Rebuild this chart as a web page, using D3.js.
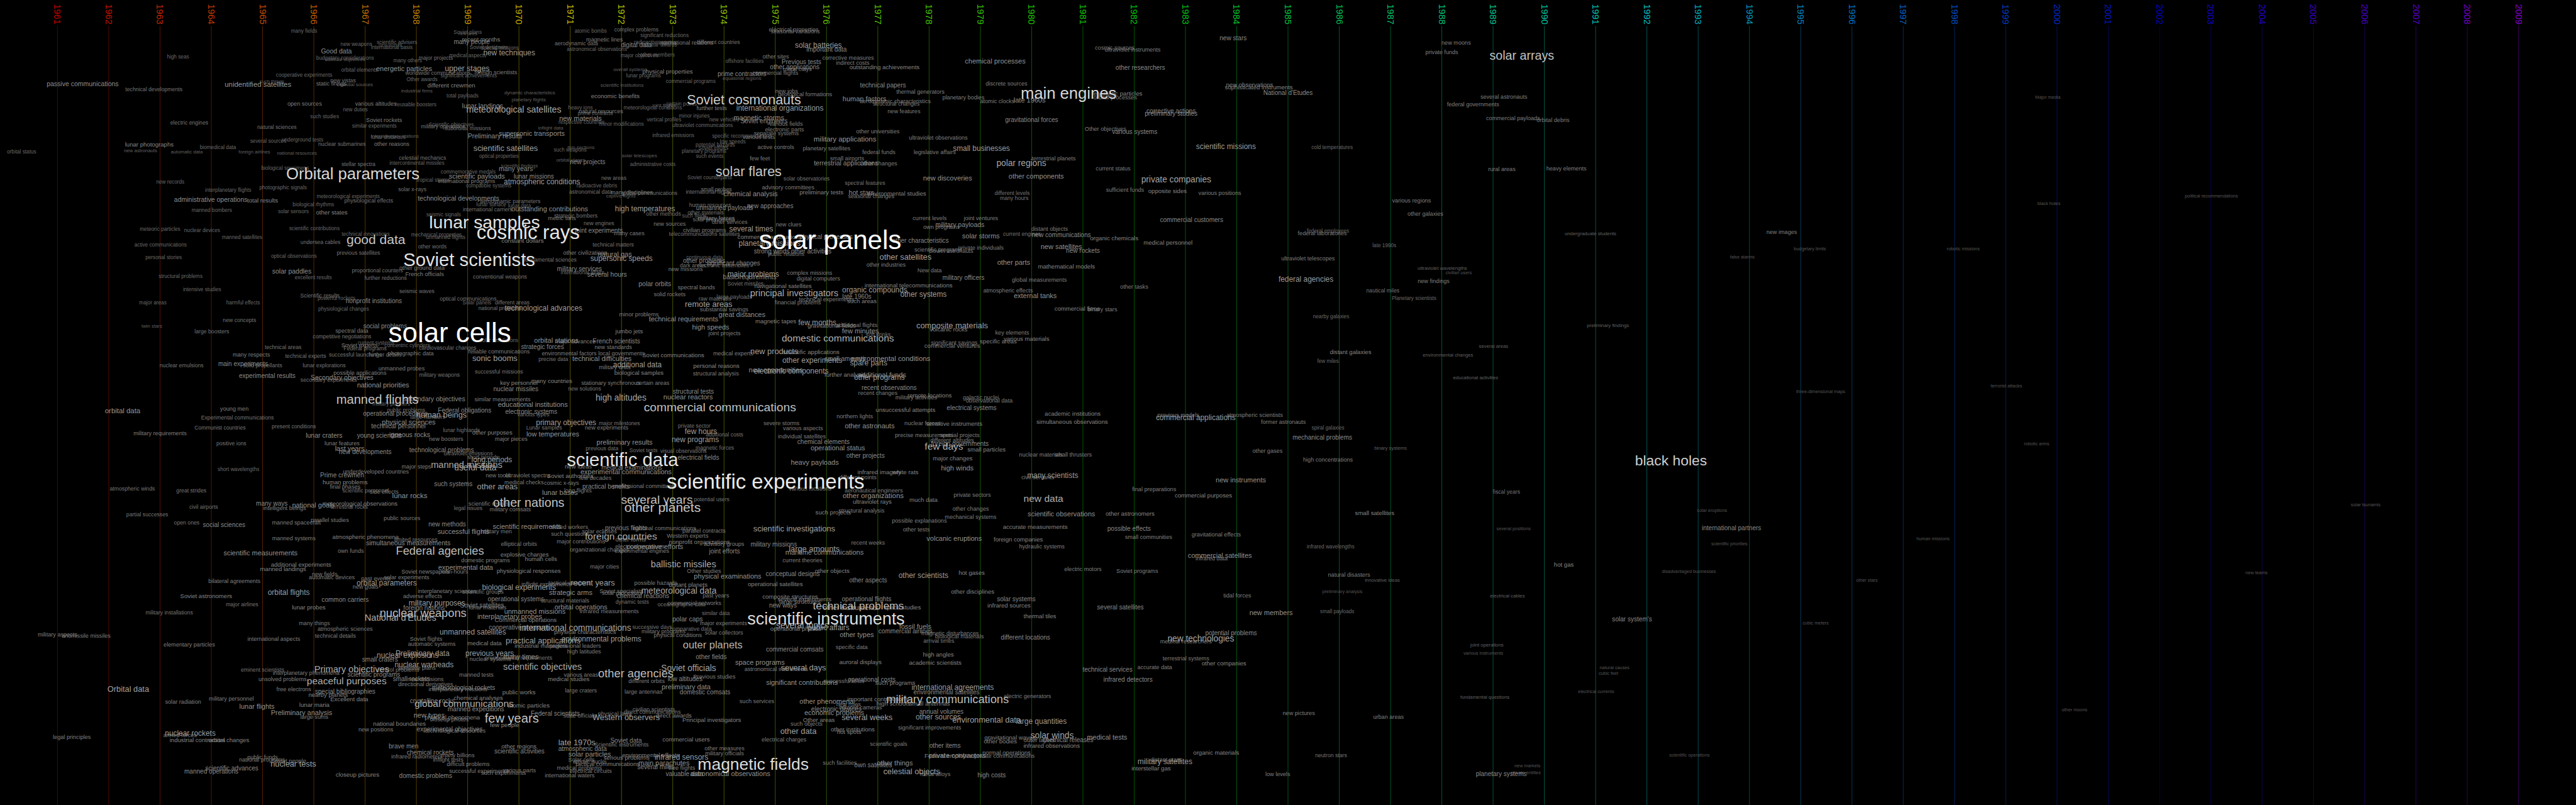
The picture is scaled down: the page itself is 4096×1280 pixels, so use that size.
<!DOCTYPE html>
<html><head><meta charset="utf-8">
<script src="https://cdn.jsdelivr.net/npm/d3@7"></script>
<style>html,body{margin:0;padding:0;background:#000;overflow:hidden}</style>
</head><body>
<svg id="chart" width="4096" height="1280"></svg>
<script>
// Year axis (tick labels)
const years = [1961,1962,1963,1964,1965,1966,1967,1968,1969,1970,1971,1972,1973,1974,1975,1976,1977,1978,1979,1980,
  1981,1982,1983,1984,1985,1986,1987,1988,1989,1990,1991,1992,1993,1994,1995,1996,1997,1998,1999,2000,
  2001,2002,2003,2004,2005,2006,2007,2008,2009];

// Terms: [phrase, year of use, vertical lane (0-100), frequency weight]
const termsUpperLeft = [
["many fields",1965.81,3.9,9],["Soviet plans",1969.0,4.0,9],["new lines",1969.0,4.2,8],["recent months",1969.26,4.9,10.5],
["many people",1969.08,5.2,11],["Soviet designers",1969.41,5.9,9],["special missions",1969.63,6.0,9],["new weapons",1966.83,5.5,9],
["scientific advisers",1967.62,5.3,9],["new worlds",1967.49,5.6,8],["international basis",1967.52,5.9,9],["Good data",1966.44,6.3,11.5],
["high seas",1963.35,7.1,9],["budgetary considerations",1966.61,7.2,9],["national objectives",1966.61,7.4,8.5],["many others",1967.83,7.5,9],
["major projects",1968.38,7.2,9.5],["medical aspects",1969.0,6.9,9],["atomic bombs",1971.40,3.9,9],["complex problems",1972.29,3.7,9.5],
["significant reductions",1972.84,4.4,9],["magnetic lines",1971.67,4.9,10],["aerodynamic data",1971.12,5.4,9.5],["digital data",1972.29,5.6,11],
["radioactive wastes",1972.66,5.3,9],["international relations",1973.26,5.3,10],["different countries",1973.89,5.2,9.5],["nuclear awards",1972.74,5.6,9],
["astronomical observations",1971.52,6.1,9],["new techniques",1969.81,6.6,13],["major objectives",1972.35,6.9,9],["other members",1972.70,6.8,9],
["energetic particles",1967.76,8.5,12],["upper stages",1968.99,8.5,13.5],["orbital elements",1966.89,8.7,9],["worldwide communications",1968.42,9.1,9.5],
["foreign scientists",1969.55,9.0,10],["significant achievements",1969.02,9.4,9],["Other awards",1968.11,9.9,9],["cooperative experiments",1965.81,9.3,9],
["passive communications",1961.49,10.4,11.5],["technical developments",1962.88,11.1,9.5],["unidentified satellites",1964.91,10.5,12.5],["such things",1965.18,10.1,8.5],
["new vistas",1966.57,10.0,9.5],["static firings",1966.34,10.4,10],["celestial sources",1966.80,10.5,8.5],["different crewmen",1968.68,10.6,10.5],
["industrial firms",1968.01,11.3,8.5],["total payloads",1968.90,11.9,9],["dynamic characteristics",1970.21,11.5,8.5],["planetary flights",1970.19,12.4,8.5],
["economic benefits",1971.88,11.9,10.5],["overall systems",1972.17,8.6,8.5],["physical properties",1972.90,8.9,10.5],["lunar programs",1972.43,9.4,9],
["commercial programs",1973.35,10.1,9],["scientific institutions",1972.01,10.6,8.5],["prime contractors",1974.35,9.2,11],["equatorial regions",1974.35,9.7,8.5],
["offshore facilities",1974.40,7.6,9],["open sources",1965.82,12.9,10],["various altitudes",1967.21,12.9,10],["reusable boosters",1967.99,13.0,9],
["new duties",1966.81,13.6,9],["lunar landings",1969.29,13.1,11.5],["meteorological satellites",1969.90,13.6,15.5],["heavy ions",1971.20,13.4,9],
["natural resources",1971.60,13.8,10],["prime contracts",1971.49,14.1,9],["meteorological conditions",1972.61,13.4,9],["certain points",1973.17,12.9,9],
["joint flights",1972.83,13.1,8.5],["further tests",1973.76,13.4,10],["such studies",1966.21,14.5,9],["Soviet rockets",1967.37,14.9,10],
["new materials",1971.20,14.7,12],["respective countries",1971.22,15.2,9],["minor modifications",1972.0,15.4,9],["minor injuries",1973.42,14.4,9],
["vertical profiles",1972.83,14.9,9],["new vehicles",1974.0,14.9,9],["ultraviolet communications",1973.58,15.6,9],["electric engines",1963.57,15.2,9.5],
["natural sciences",1965.28,15.8,9.5],["similar experiments",1967.18,15.7,9],["Scientific objectives",1968.68,15.5,9],["military operations",1968.52,15.7,9.5],
["suborbital missions",1969.0,15.9,9.5],["inflight data",1970.62,15.9,8.5],["Preliminary results",1969.53,16.9,11.5],["supersonic transports",1970.25,16.6,12],
["infrared emissions",1973.01,16.8,9],["specific recommendations",1974.35,16.9,9],["low speeds",1974.17,17.6,9],["potential hazards",1973.83,18.0,9],
["Soviet efforts",1973.79,18.4,9],["planetary programs",1973.61,18.8,9],["such events",1973.72,19.4,9],["several sources",1965.11,17.5,9],
["underground tests",1965.78,17.4,9],["interplanetary stations",1967.58,16.9,8.5],["lunar distances",1967.45,17.1,9],["nuclear submarines",1966.55,17.9,9.5],
["other reasons",1967.52,17.9,10],["lunar photographs",1962.79,17.9,10.5],["new astronauts",1962.62,18.7,8.5],["automatic data",1963.52,18.9,8.5],
["biomedical data",1964.13,18.3,9],["foreign airlines",1964.84,18.9,8.5],["national resources",1965.67,19.0,8.5],["orbital status",1960.30,18.9,9],
["scientific satellites",1969.74,18.4,14],["thin sections",1971.21,18.3,8.5],["such weapons",1971.0,18.6,9],["optical properties",1969.61,19.4,9],
["solar telescopes",1972.35,19.3,8.5],["orbital planes",1971.01,19.9,8.5],["new projects",1971.34,20.1,11],["administrative costs",1972.61,20.4,9],
["celestial mechanics",1968.12,19.6,9.5],["intercontinental missiles",1968.01,20.3,9],["stellar spectra",1966.87,20.4,9.5],["biological specimens",1965.44,20.9,9],
["Orbital parameters",1966.76,21.6,28],["many years",1969.94,20.9,11.5],["scientific findings",1970.01,20.6,8.5],["commemorative medals",1969.01,21.4,9],
["scientific payloads",1969.18,21.9,12],["lunar missions",1970.29,21.9,11],["tropical storms",1968.33,22.4,9],["international programs",1968.98,22.5,10],
["atmospheric conditions",1970.45,22.6,13],["compatible systems",1969.41,23.1,9],["new areas",1971.85,22.1,9.5],["Soviet counterparts",1973.72,22.1,9],
["new records",1963.20,22.6,9],["interplanetary flights",1964.33,23.6,9],["photographic signals",1965.40,23.3,9],["solar x-rays",1967.92,23.5,9.5],
["radioactive debris",1971.52,23.1,9],["astronomical data",1971.40,23.8,9.5],["many disciplines",1972.20,23.9,10],["global communications",1972.55,24.0,9.5],
["captive flights",1971.99,24.3,8.5],["international flights",1973.70,23.8,9.5],["small probes",1973.85,23.5,9.5],["administrative operations",1963.99,24.8,11.5],
["total results",1965.0,24.9,10.5],["meteorological experiments",1966.67,24.4,9],["physiological effects",1967.07,24.9,9.5],["technological developments",1968.82,24.6,11.5],
["lunar surface",1969.46,25.4,9],["lunar data",1970.01,25.6,9],["aerodynamic parameters",1969.83,25.0,9.5],["outstanding contributions",1970.60,25.9,12],
["international carriers",1969.39,26.0,9.5],["biological rhythms",1965.99,25.4,9],["manned bombers",1964.01,26.1,9],["solar sensors",1965.60,26.3,9],
["other states",1966.35,26.4,10.5],["high temperatures",1972.46,25.9,13],["human resources",1973.73,25.5,9.5],["unmanned payloads",1974.01,25.8,11],
["other methods",1972.82,26.6,9.5],["other materials",1973.64,26.4,9.5],["military forces",1973.85,27.1,10.5],["seismic signals",1968.53,26.7,9],
["strategic bombers",1971.11,26.8,9.5],["metric tons",1970.84,27.1,10],["lunar samples",1969.33,27.6,31],["cosmic rays",1970.18,28.9,34],
["new engines",1971.56,27.7,9.5],["new sources",1972.94,27.8,10],["joint experiments",1971.56,28.6,11],["many cases",1972.15,29.0,10],
["civilian programs",1973.62,28.6,10],["telecommunications satellites",1973.62,29.1,9.5],["several times",1974.53,28.4,13],["meteoric particles",1963.0,28.5,9],
["nuclear devices",1963.82,28.6,9],["manned satellites",1964.60,29.5,9],["scientific contributions",1966.01,28.4,9],["technical innovations",1967.01,29.1,9],
["good data",1967.21,29.7,23],["mechanical properties",1968.39,29.2,9],["unmanned flights",1968.57,29.5,9],["constant dollars",1970.07,29.9,10.5],
["technical matters",1971.84,30.4,9.5],["active communications",1963.01,30.4,9],["undersea cables",1966.13,30.1,9.5],["other words",1968.31,30.6,9.5],
["previous satellites",1966.87,31.4,9.5],["other civilizations",1971.29,31.4,10],["natural gas",1971.87,31.6,12],["supersonic speeds",1972.0,32.1,13],
["continuous data",1973.62,32.0,9],["other problems",1973.61,32.4,11],["significant changes",1974.18,32.7,11],["dark areas",1973.39,33.0,9.5],
["electronic assemblies",1973.98,33.0,9.5],["new missions",1973.25,33.4,10],["Soviet scientists",1969.03,32.3,32],["fundamental sciences",1970.61,32.3,9.5],
["other ground data",1968.11,33.3,10],["French officials",1968.16,34.1,10],["conventional weapons",1969.63,34.4,9.5],["military services",1971.18,33.4,11],
["international affairs",1971.24,33.9,9],["several hours",1971.72,34.1,11.5],["optical observations",1965.61,31.8,9],["personal stories",1963.07,32.0,9],
["solar paddles",1965.57,33.7,11.5],["proportional counters",1967.24,33.6,9.5],["excellent results",1965.99,34.5,9],["further reductions",1967.40,34.5,9.5],
["structural problems",1963.40,34.3,9],["intensive studies",1963.82,36.0,9],["polar orbits",1972.65,35.2,11.5],["spectral bands",1973.46,35.7,10],
["solid rockets",1972.94,36.6,10],["seismic waves",1968.01,36.2,9.5],["major areas",1962.86,37.6,9],["harmful effects",1964.62,37.6,9],
["Scientific results",1966.12,36.7,9.5],["powerful rockets",1966.44,37.1,9],["nonprofit institutions",1967.17,37.4,11],["optical communications",1969.01,37.1,9.5],
["Solar panels",1969.18,37.6,9],["different areas",1969.87,37.6,9.5],["remote areas",1973.70,37.8,14],["large payloads",1974.20,36.9,9.5],
["raw materials",1973.82,37.1,9.5],["technological advances",1970.48,38.3,13],["national problems",1969.63,38.3,9.5],["physiological changes",1966.58,38.4,9]
];

const termsCentre = [
["solar observatories",1975.61,22.2,9.5],["spectral features",1976.75,22.7,9.5],["new discoveries",1978.36,22.1,12],["other components",1980.09,21.9,12],
["advisory committees",1975.25,23.3,10],["preliminary tests",1975.90,23.9,10.5],["hot stars",1976.68,23.9,11.5],["environmental studies",1977.37,24.0,10.5],
["seasonal changes",1976.87,24.4,10],["different levels",1979.62,24.0,9.5],["many hours",1979.66,24.6,9.5],["chemical analysis",1974.52,24.1,12],
["new approaches",1974.90,25.6,11],["such fields",1973.42,26.8,9],["solar phenomena",1973.80,27.3,9.5],["other services",1974.11,27.6,10],
["new clues",1975.26,27.9,10],["current levels",1978.01,27.1,10],["joint ventures",1979.01,27.1,10],["military payloads",1978.60,27.9,11.5],
["own programs",1978.24,28.2,10],["solar storms",1979.01,29.3,12],["current engines",1979.81,29.1,9.5],["commercial applications",1974.89,29.4,10.5],
["physical processes",1975.99,29.4,11],["planetary missions",1974.89,30.2,13],["solar panels",1976.07,29.8,46],["other characteristics",1977.83,29.9,11],
["strong winds",1974.93,31.2,11],["other activities",1975.70,31.2,11],["public relations",1975.21,31.6,9.5],["scientific programs",1978.18,31.0,10],
["private individuals",1979.01,30.8,10],["Soviet astronauts",1978.43,31.2,10],["other satellites",1977.54,31.9,14],["other industries",1977.16,32.9,10],
["other parts",1979.65,32.6,12],["New data",1978.01,33.6,10],["military officers",1978.67,34.5,11],["global measurements",1980.15,34.8,10],
["major problems",1974.57,34.1,13],["basic requirements",1974.50,34.4,11],["complex missions",1975.67,33.9,10],["digital computers",1975.84,34.6,10],
["Soviet missiles",1974.42,35.2,9.5],["navigational satellites",1975.15,35.5,10.5],["international telecommunications",1977.60,35.4,10.5],["principal investigators",1975.37,36.4,16],
["organic compounds",1976.94,36.0,13],["other systems",1977.89,36.6,13],["atmospheric effects",1979.54,36.1,10],["external tanks",1980.07,36.7,12],
["late 1960s",1976.59,36.8,11],["such areas",1976.69,37.4,10.5],["technical experiments",1976.0,37.2,10],["financial problems",1975.44,37.6,10],
["substantial savings",1974.0,38.4,10],["great distances",1974.35,39.1,12],["minor problems",1972.34,39.1,10],["technical requirements",1973.21,39.6,12],
["magnetic tapes",1975.01,39.9,10.5],["few months",1975.82,40.1,13],["gravitational fields",1976.10,40.4,10.5],["additional flights",1976.59,40.4,10],
["few minutes",1976.66,41.1,12],["soft drinks",1977.01,41.6,9.5],["composite materials",1978.45,40.4,14],["volcanic rocks",1978.38,40.9,10.5],
["key elements",1979.62,41.3,10],["specific areas",1979.35,42.4,10.5],["various materials",1979.90,42.1,10.5],["significant savings",1978.49,42.6,10],
["commercial ventures",1978.45,42.9,10.5],["domestic communications",1976.22,42.0,17],["high speeds",1973.74,40.6,12],["joint projects",1974.01,41.4,10],
["jumbo jets",1972.15,41.1,10.5],["French scientists",1971.90,42.4,11],["new standards",1971.84,43.1,10],["medical experts",1974.18,43.9,10],
["new products",1974.98,43.6,14],["scientific applications",1975.70,43.7,10.5],["Soviet communications",1973.01,44.1,10.5],["other experiments",1975.72,44.8,13],
["small amounts",1976.36,44.6,11],["environmental conditions",1977.25,44.5,12.5],["spare parts",1976.82,45.1,13],["technical difficulties",1971.62,44.5,12],
["additional data",1972.31,45.3,13],["military units",1971.87,45.6,10],["biological samples",1972.34,46.3,10.5],["personal reasons",1973.85,45.4,10.5],
["structural analysis",1973.84,46.4,10],["new opportunities",1975.01,45.9,12],["electronic components",1975.31,46.1,13],["further analysis",1976.36,46.5,10.5],
["additional funds",1977.08,46.6,12],["other programs",1977.03,46.9,13],["recent observations",1977.22,48.2,11],["recent changes",1977.0,48.8,10],
["remote locations",1978.01,49.1,10.5],["military activities",1977.75,49.4,10],["galactic nuclei",1979.01,49.4,10],["observational data",1979.17,49.8,10],
["stationary synchronous",1971.79,47.6,10],["certain areas",1972.61,47.6,10],["new solutions",1971.28,48.3,9.5],["structural tests",1973.40,48.6,11],
["nuclear reactors",1973.30,49.3,12],["high altitudes",1971.99,49.4,15],["educational institutions",1970.27,50.2,12],
["electrical properties",1975.36,3.7,10],["seasonal variations",1975.39,3.9,10],["solar batteries",1975.84,5.6,13],["important data",1976.0,6.1,11],
["other sites",1975.01,7.0,10],["Previous tests",1975.51,7.7,11],["corrective measures",1976.42,7.2,10],["indirect costs",1976.51,7.8,10],
["other applications",1975.38,8.3,11],["outstanding achievements",1977.13,8.3,10.5],["metal clays",1975.43,8.6,10],["commercial flights",1975.0,9.1,10],
["chemical processes",1979.29,7.6,12],["technical papers",1977.10,10.6,11],["discrete sources",1979.51,10.4,10],["thermal generators",1977.83,11.4,10],
["new jobs",1975.22,11.3,10],["geological formations",1975.58,11.7,10],["human factors",1976.74,12.3,12],["aerodynamic characteristics",1977.34,12.6,10],
["structural changes",1977.36,12.9,10],["planetary bodies",1978.67,12.1,10],["atomic clocks",1979.33,12.6,10],["late 1960s",1979.96,12.4,12],
["main engines",1980.72,11.6,28],["energetic particles",1981.68,11.6,10.5],["orbital processes",1981.63,12.1,10],["new features",1977.51,13.8,10],
["Soviet cosmonauts",1974.39,12.4,23.5],["international organizations",1975.09,13.4,13],["magnetic storms",1974.68,14.6,12],["Soviet engineers",1974.78,15.0,11],
["various fields",1975.21,15.4,10],["electronic parts",1975.18,16.1,10],["separate systems",1975.02,16.6,10],["various tests",1974.68,17.0,10],
["military applications",1976.36,17.3,12.5],["other universities",1977.0,16.3,10],["ultraviolet observations",1978.18,17.1,10],["small businesses",1979.02,18.4,13],
["legislative affairs",1978.11,18.9,10],["federal funds",1977.02,18.9,10],["active controls",1975.01,18.3,10],["planetary satellites",1976.0,18.4,10],
["few feet",1974.70,19.7,10],["terrestrial applications",1976.38,20.2,11.5],["small airports",1976.40,19.7,10],["Other changes",1977.01,20.3,10],
["solar flares",1974.48,21.3,23.5],["gravitational forces",1980.0,14.9,11],["Other objectives",1981.44,16.0,10],["various systems",1982.01,16.4,11],
["corrective actions",1982.72,13.8,11],["preliminary studies",1982.72,14.1,11],["polar regions",1979.80,20.3,15],["terrestrial planets",1980.43,19.7,10],
["current status",1981.59,20.9,10],["scientific missions",1983.79,18.2,13],["private companies",1982.82,22.3,15],["sufficient funds",1981.82,23.6,10],
["opposite sides",1982.65,23.7,10.5],["various positions",1983.67,24.0,10],["new stars",1983.93,4.7,11],["cosmic sources",1981.62,5.9,10],
["ultraviolet instruments",1981.97,6.2,10],["other researchers",1982.12,8.4,11],["new observations",1984.25,10.5,10.5],["sophisticated instruments",1984.43,10.8,10.5],
["National d'Etudes",1985.0,11.5,11],["commercial customers",1983.12,27.3,11],["distant objects",1980.35,28.4,10],["new communications",1980.58,29.2,11],
["organic chemicals",1981.61,29.6,10.5],["medical personnel",1982.66,30.1,10.5],["new satellites",1980.58,30.6,12],["new rockets",1981.0,31.1,11],
["mathematical models",1980.68,33.1,10.5],["other tasks",1982.0,35.6,10],["commercial firms",1980.89,38.3,10.5],["binary stars",1981.38,38.4,10],
["federal laboratories",1985.67,29.0,10],["ultraviolet telescopes",1985.39,32.1,10],["federal agencies",1985.35,34.7,13]
];

const termsLowerLeft = [
["new concepts",1964.55,39.8,9.5],["twin stars",1962.84,40.5,8.5],["large boosters",1964.01,41.2,9.5],["social problems",1967.39,40.5,11],
["spectral data",1966.74,41.1,10],["competitive negotiations",1966.55,41.8,9.5],["solar cells",1968.65,41.3,48],["solar simulations",1969.61,42.3,9],
["orbital stations",1970.73,42.3,12],["major advances",1971.10,42.4,10],["technical areas",1965.40,43.1,9.5],["Soviet experts",1966.89,42.9,10],
["current systems",1967.21,42.6,9],["concentric cylinders",1967.82,42.9,9],["Federal programs",1967.0,43.3,9.5],["cardiovascular changes",1968.61,43.2,9.5],
["strategic forces",1970.46,43.1,11],["many respects",1964.78,44.1,10],["technical experts",1965.84,44.2,9.5],["successful launchings",1966.81,44.1,9.5],
["further details",1967.39,44.1,9.5],["photographic data",1967.89,43.9,10],["reliable communications",1969.61,43.7,10],["environmental factors",1970.98,43.9,10],
["local governments",1972.0,43.9,10],["precise data",1970.67,44.6,9.5],["sonic booms",1969.53,44.5,14],["nuclear emulsions",1963.42,45.4,9.5],
["main experiments",1964.62,45.2,11],["solid propellants",1965.0,45.4,9.5],["lunar explorations",1966.20,45.4,9.5],["unmanned probes",1967.71,45.8,10],
["possible applications",1966.90,46.3,10],["successful missions",1969.61,46.2,9.5],["military weapons",1968.45,46.6,9.5],["experimental results",1965.09,46.7,11],
["Secondary objectives",1966.55,46.9,11.5],["secondary experiments",1966.29,47.2,9.5],["national priorities",1967.35,47.8,12],["key personnel",1970.0,47.5,10.5],
["many countries",1970.64,47.3,10.5],["nuclear missiles",1969.94,48.3,11],["manned flights",1967.24,49.6,22],["secondary objectives",1968.35,49.5,11.5],
["military planners",1967.51,50.2,9],["similar measurements",1969.68,49.6,10],["public problems",1967.80,50.9,9.5],["Federal obligations",1968.94,51.0,11],
["operational procedures",1967.59,51.4,11],["human beings",1968.49,51.5,14],["large numbers",1968.22,51.8,9.5],["electronic systems",1970.24,51.1,11],
["various types",1970.28,51.5,9.5],["orbital data",1962.27,51.0,12.5],["young men",1964.45,50.8,10],["Experimental communications",1964.51,51.9,9.5],
["physical sciences",1967.85,52.4,12],["technical personnel",1967.65,52.9,11],["primary objectives",1970.92,52.5,13],["Lunar samples",1970.49,53.1,9.5],
["new experiments",1971.71,53.1,10],["major milestones",1971.96,52.6,9.5],["Communist countries",1964.17,53.1,9.5],["present conditions",1965.61,53.0,9.5],
["military requirements",1963.0,53.8,10],["lunar craters",1966.20,54.1,11.5],["young scientists",1967.28,54.1,11],["igneous rocks",1967.87,54.0,11.5],
["lunar highlands",1968.88,53.4,9.5],["other purposes",1969.48,53.7,10.5],["new boosters",1968.58,54.5,10],["major pieces",1969.85,54.5,10],
["low temperatures",1970.66,53.9,12],["positive ions",1964.39,55.1,9.5],["lunar features",1966.55,55.1,10],["last years",1966.70,55.7,12],
["new developments",1967.0,56.1,11],["technological problems",1968.49,55.9,11],["ultraviolet emissions",1969.01,56.3,9.5],["short periods",1969.30,56.8,9.5],
["long periods",1969.47,57.1,13],["manned missions",1968.98,57.7,16],["useful data",1969.15,58.1,15],["major steps",1968.0,58.0,10],
["underdeveloped countries",1967.21,58.6,10],["Prime crewmen",1966.55,59.0,11],["human problems",1966.61,59.9,10.5],["final phases",1966.61,60.5,10],
["scientific personnel",1967.01,60.9,9.5],["side effects",1967.37,61.1,10],["such systems",1968.72,60.1,11],["other areas",1969.58,60.4,14],
["lunar rocks",1967.87,61.6,12.5],["short wavelengths",1964.53,58.3,9],["atmospheric winds",1962.46,60.7,9.5],["great strides",1963.61,60.9,9.5],
["scientific data",1972.02,57.1,32],["new ideas",1971.16,57.9,10.5],["medical examinations",1972.20,58.1,11],["experimental communications",1972.09,58.6,12],
["electrical fields",1973.50,56.8,11],["previous data",1971.62,55.7,9.5],["Soviet tests",1972.43,55.9,9.5],["visual observations",1973.21,56.0,9.5],
["magnetic forces",1973.82,55.6,9.5],["preliminary results",1972.06,54.9,12],["new programs",1973.44,54.6,13],["few hours",1973.55,53.6,13],
["additional costs",1974.01,54.0,9.5],["private sector",1973.42,52.9,9.5],["commercial communications",1973.92,50.6,21],["new tools",1969.59,59.1,10],
["ultraviolet spectra",1970.17,59.1,10],["Soviet authorities",1971.0,59.1,10.5],["medical checks",1970.10,59.9,10],["cosmic x-rays",1970.83,60.0,10],
["few decades",1971.49,59.4,10],["practical benefits",1971.70,60.4,11],["professional committees",1972.44,60.4,10],["lunar bases",1970.80,61.2,12],
["long flights",1971.15,60.9,10],["scientific experiments",1974.81,59.8,36],["several years",1972.69,62.1,21],["other planets",1972.80,63.0,23],
["other nations",1970.19,62.4,21.5],["scientific results",1969.41,62.6,10],["legal issues",1969.01,63.1,9.5],["military comsats",1969.83,63.3,10],
["potential users",1973.76,62.0,9.5],["many ways",1965.18,62.5,11],["national goals",1965.99,62.7,12],["intelligent beings",1965.43,63.1,10],
["meteorological observations",1966.90,62.5,10.5],["terrestrial rocks",1966.69,63.0,9.5],["civil airports",1963.85,63.0,9.5],["partial successes",1962.75,63.9,9.5],
["open ones",1963.52,64.9,9.5],["social sciences",1964.25,65.2,11],["parallel studies",1966.31,64.6,10],["manned spacecraft",1965.66,64.9,10],
["public sources",1967.72,64.4,10],["new methods",1968.60,65.1,11],["successful flights",1968.92,66.0,12],["military men",1969.56,66.0,10],
["scientific requirements",1970.16,65.4,12],["skilled workers",1970.98,65.5,10],["solar eclipses",1971.57,66.0,10],["such questions",1971.0,66.3,10],
["previous flights",1972.09,65.6,11],["national communications",1972.84,65.6,10],["parallel contracts",1973.61,65.9,10],["foreign countries",1971.99,66.6,17],
["other forms",1972.18,67.0,10.5],["Western experts",1973.29,66.6,10],["nonprofit organizations",1973.52,67.3,10.5],["advisory groups",1974.0,67.6,10],
["major contributions",1971.21,67.3,10],["cooperative efforts",1972.65,67.9,12],["electrical engineers",1972.36,67.9,10],["organizational changes",1971.57,68.3,10],
["experimental engines",1972.40,68.4,10],["joint efforts",1974.01,68.5,11],["manned systems",1965.61,66.9,10],["atmospheric phenomena",1967.01,66.7,10.5],
["limited resources",1967.99,67.0,10],["simultaneous measurements",1967.84,67.4,11.5],["elliptical orbits",1970.0,67.6,10],["scientific measurements",1964.96,68.7,12],
["own funds",1966.72,68.4,10],["Federal agencies",1968.46,68.4,20],["explosive charges",1970.11,68.9,10.5],["domestic programs",1969.35,69.6,10],
["human cells",1970.43,69.4,10.5],["ballistic missiles",1973.21,70.1,16],["Other studies",1973.61,70.9,10],["physical examinations",1974.07,71.6,12],
["major cities",1971.67,70.4,10],["experimental data",1968.96,70.5,12],["physiological responses",1970.19,70.9,10.5],["Soviet newspapers",1968.18,71.0,10],
["man-hours",1968.74,71.0,10],["additional experiments",1965.75,70.1,10.5],["manned landings",1965.40,70.7,10.5],["new fields",1966.21,71.3,10],
["automatic devices",1966.35,71.7,10],["past events",1967.21,71.9,10],["solar experiments",1967.81,71.7,10],["bilateral agreements",1964.45,72.2,10],
["orbital parameters",1967.42,72.4,13],["new goals",1967.01,72.9,10],["orbital flights",1965.51,73.6,13],["Soviet astronomers",1963.90,74.0,10.5],
["biological experiments",1970.0,73.0,13],["inflight experiments",1970.53,72.6,10],["tactical weapons",1970.99,72.4,10],["recent years",1971.44,72.4,14],
["possible hazards",1972.67,72.4,10],["distant planets",1973.30,72.6,10.5],["meteorological data",1973.12,73.4,15],["strategic arms",1971.01,73.6,12],
["Soviet specialists",1972.0,73.4,10],["solar processes",1972.01,73.7,10],["chemical reactions",1972.42,74.0,11],["past years",1973.84,74.0,10],
["interplanetary sciences",1968.60,73.4,10],["scientific groups",1969.30,73.5,10],["adverse effects",1968.12,74.1,10],
["common carriers",1966.61,74.5,11],["lunar probes",1965.90,75.4,10.5],["major airlines",1964.60,75.1,9.5],["military installations",1963.18,76.1,9.5],
["military purposes",1968.40,74.9,13],["foreign nations",1968.15,75.5,11],["Soviet satellites",1969.28,75.2,11],["lunar materials",1969.39,75.5,10],
["operational systems",1969.94,74.4,11],["structural materials",1970.90,74.6,10],["dynamic tests",1972.21,74.8,9.5],["commercial networks",1973.42,74.9,10],
["oceanographic data",1973.17,75.1,9.5],["orbital operations",1971.21,75.4,12],["unmanned missions",1970.31,75.9,12],["infrared measurements",1971.76,75.9,10],
["nuclear weapons",1968.13,76.1,20],["National d'Etudes",1967.69,76.7,16],["interplanetary probes",1969.82,76.6,12],["Commercial operations",1970.13,77.0,10.5],
["similar data",1973.84,76.2,9.5],["polar caps",1973.29,76.9,11.5],["major experiments",1973.99,77.4,10],["many things",1966.01,77.4,10],
["atmospheric sciences",1966.61,78.1,10],["technical details",1966.42,79.0,10],["international aspects",1965.22,79.4,10],["military aspects",1961.0,78.8,10],
["antimissile missiles",1961.56,79.0,10],["elementary particles",1963.57,80.1,10],["cooperative programs",1970.01,77.9,11],["international communications",1971.10,78.0,15],
["physical characteristics",1971.29,78.5,10.5],["successive days",1972.60,77.9,9.5],["military programs",1972.82,78.4,10],["comparative data",1973.35,78.1,9.5],
["solar collectors",1974.0,78.6,10],["physical conditions",1973.10,78.9,10],["unmanned satellites",1969.10,78.5,13],["practical applications",1970.47,79.6,14],
["environmental problems",1971.61,79.4,13],["Soviet flights",1968.19,79.4,10],["automatic systems",1968.30,80.0,10],["medical data",1969.33,79.9,10.5],
["industrial managers",1970.43,80.2,10.5],["professional leaders",1971.10,80.2,10],["high latitudes",1971.27,80.9,10],["outer planets",1973.78,80.1,18],
["other fields",1973.75,81.6,11],["nuclear explosions",1967.83,81.4,13],["Preliminary data",1968.12,81.2,13],["small craters",1967.29,81.9,11],
["previous years",1969.43,81.2,13],["nuclear systems",1969.44,81.9,10],["many times",1970.04,81.6,12],["environmental requirements",1969.99,81.7,9.5],
["scientific objectives",1970.46,82.8,16],["nuclear warheads",1968.15,82.6,13],["sensitive plans",1968.01,83.0,10],["Primary objectives",1966.74,83.1,16],
["control problems",1967.64,83.2,10],["scientific programs",1967.17,83.8,11],["interplanetary phenomena",1965.85,83.6,10],["eminent scientists",1965.0,83.2,9.5],
["unsolved problems",1965.39,84.4,10],["peaceful purposes",1966.64,84.6,17],["small rockets",1967.90,84.3,11],["new decisions",1968.18,84.4,10],
["directional derivatives",1968.18,85.0,10],["meteorological rockets",1968.92,85.4,11],["interplanetary missions",1968.81,85.6,10],["manned tests",1969.17,83.8,10],
["other agencies",1972.28,83.6,20],["Soviet officials",1973.31,83.0,15],["various areas",1971.21,83.8,10],["medical studies",1970.97,84.3,10.5],
["different orbits",1972.49,84.6,10],["low altitudes",1973.24,84.3,11],["Previous studies",1973.81,84.1,10],["preliminary data",1973.26,85.3,12],
["large antennas",1972.43,85.9,10],["domestic comsats",1973.63,86.0,11],["large craters",1971.21,85.8,10],["public works",1970.0,86.0,10.5],
["chemical analyses",1969.21,86.7,10.5],["Orbital data",1962.38,85.6,14],["free electrons",1965.61,85.6,10],["special bibliographies",1966.61,85.9,11],
["nearby planets",1966.28,86.3,10.5],["Excellent data",1966.69,86.8,10.5],["military personnel",1964.39,86.8,10],["solar radiation",1963.45,87.2,10],
["lunar flights",1964.89,87.7,12],["lunar maria",1966.01,87.5,10.5],["Preliminary analysis",1965.76,88.5,12],["large sums",1966.01,89.1,10],
["crystalline rocks",1968.31,87.1,11],["global communications",1968.93,87.4,17],["atomic particles",1970.19,87.6,10.5],["manned expeditions",1969.16,88.1,11],
["new types",1968.25,88.8,12],["physical phenomena",1968.70,89.1,10.5],["closeup photos",1968.64,89.4,10],["few years",1969.86,89.2,22],
["few people",1969.72,90.0,10.5],["Federal scientists",1970.71,88.6,11],["state officials",1971.19,88.9,10],["physical laws",1971.87,88.7,10],
["direct communications",1972.60,88.4,10],["civilian scientists",1972.63,88.1,10],["direct awards",1973.02,88.9,10.5],["Western observers",1972.09,89.1,14],
["Principal investigators",1973.76,89.4,10.5],["national boundaries",1967.67,89.9,10.5],["new positions",1967.21,90.6,10],["experimental objectives",1968.65,90.6,11],
["technological resources",1968.76,90.8,10],["nuclear rockets",1963.59,91.1,13],["armed forces",1963.39,91.3,10],["industrial contractors",1963.73,91.9,10.5],
["orbital changes",1964.34,91.9,10.5],["legal principles",1961.28,91.6,10],["late 1970s",1971.13,92.2,14],["Soviet data",1972.09,92.0,11],
["Scientific instruments",1972.0,92.5,10],["atmospheric data",1971.24,93.0,11],["commercial users",1973.26,91.8,10.5],["other measures",1974.01,93.0,10],
["military officials",1974.01,93.6,10],["brave men",1967.75,92.7,11],["other regions",1970.0,92.7,10.5],["scientific activities",1970.01,93.3,11],
["solar particles",1971.38,93.7,12],["environmental effects",1972.57,93.8,10.5],["infrared sensors",1973.17,94.1,13],["serious problems",1972.10,94.1,10.5],
["chemical rockets",1968.27,93.5,11],["infrared radiometers",1968.01,94.0,10],["many billions",1968.81,93.8,10],["inflight tests",1968.62,94.4,10],
["difficult problems",1969.01,94.9,10],["Solar cells",1971.22,94.4,10],["atomic nuclei",1971.38,94.6,10],["tactical communications",1971.73,94.9,10.5],
["main parachutes",1972.83,94.8,12],["several miles",1972.67,95.3,11],["free flights",1973.18,95.4,10],["magnetic fields",1974.57,94.9,29],
["astronomical observations",1974.12,96.1,12],["valuable data",1973.23,96.1,11],["medical problems",1971.18,95.4,10],["electrical circuits",1971.40,95.8,10],
["successful experiments",1969.22,95.8,10],["various parts",1970.01,95.7,10],["such experiments",1969.70,96.0,10],["international waters",1970.99,96.3,10],
["domestic problems",1968.18,96.4,11],["closeup pictures",1966.85,96.2,10.5],["nuclear tests",1965.60,94.9,14],["public funds",1965.0,94.1,10],
["national programs",1964.99,94.4,10],["Soviet people",1965.51,94.5,10],["scientific advances",1964.40,95.4,11],["manned operations",1964.0,95.8,11]
];

const termsLowerCentre = [
["electrical systems",1978.83,50.7,11],["unsuccessful attempts",1977.54,50.9,10.5],["northern lights",1976.55,51.7,10],["severe storms",1975.12,52.6,10],
["various aspects",1975.54,53.2,10],["other astronauts",1976.84,52.9,12],["nuclear forces",1977.87,52.6,10],["sensitive instruments",1978.49,52.6,10.5],
["academic institutions",1980.80,51.4,10.5],["simultaneous observations",1980.79,52.4,10.5],["previous models",1982.86,51.6,10],["commercial applications",1983.20,51.9,13],
["atmospheric scientists",1984.35,51.6,10],["former astronauts",1984.91,52.4,10],["mechanical problems",1985.67,54.3,11],["other gases",1984.60,56.0,10],
["high concentrations",1985.78,57.1,10],["individual satellites",1975.52,54.2,10],["precise measurements",1977.90,54.1,10],["special projects",1978.60,54.1,10],
["chemical elements",1975.94,54.9,11],["different altitudes",1978.45,54.7,10],["foreign governments",1978.60,55.1,11],["few days",1978.29,55.4,17],
["operational status",1976.22,55.6,12],["small particles",1979.12,55.8,10.5],["other projects",1976.76,56.6,11],["major changes",1978.46,56.9,10.5],
["nuclear materials",1980.18,56.5,10],["small thrusters",1980.81,56.5,10],["heavy payloads",1975.77,57.4,12],["high winds",1978.55,58.1,12],
["infrared imagery",1977.03,58.6,10.5],["white rats",1977.54,58.6,10.5],["civil servants",1980.12,59.3,10],["many scientists",1980.41,59.1,13],
["new instruments",1984.08,59.6,12],["different points",1976.61,59.3,10],["various locations",1975.68,60.7,10],["aeronautical engineers",1976.92,60.9,10],
["other organizations",1976.91,61.6,12.5],["ultraviolet rays",1976.89,62.3,10.5],["much data",1977.89,62.1,10.5],["private sectors",1978.84,61.5,10],
["new data",1980.23,61.9,17],["final preparations",1982.39,60.8,10],["commercial purposes",1983.35,61.5,10.5],["such projects",1976.13,63.6,10.5],
["structural analysis",1976.68,63.4,10],["other changes",1978.81,63.2,10],["mechanical systems",1978.81,64.2,10],["scientific observations",1980.58,63.8,12],
["other astronomers",1981.92,63.8,10.5],["possible explanations",1977.81,64.7,10],["accurate measurements",1980.07,65.4,10.5],["other tests",1977.75,65.8,10],
["possible effects",1981.90,65.7,11],["gravitational effects",1983.60,66.4,10],["small communities",1982.28,66.7,10],["scientific investigations",1975.37,65.7,14],
["volcanic eruptions",1978.49,66.9,12],["foreign companies",1979.74,67.0,10.5],["hydraulic systems",1980.20,67.9,10],["recent weeks",1976.81,67.4,10],
["military missions",1974.97,67.6,11],["large amounts",1975.76,68.2,14],["maritime communications",1975.96,68.6,12],["commercial satellites",1983.67,69.0,12],
["infrared data",1983.51,69.4,10],["current theories",1975.53,69.6,10],["other objects",1976.11,70.9,10.5],["conceptual designs",1975.34,71.3,11],
["hot gases",1978.83,71.1,10.5],["other scientists",1977.89,71.5,13],["electric motors",1981.0,70.7,10],["Soviet programs",1982.06,70.9,10],
["other aspects",1976.81,72.1,11],["operational satellites",1975.0,72.5,10.5],["other disciplines",1978.85,73.5,10.5],["solar systems",1979.70,74.4,11],
["infrared sources",1979.56,75.2,10.5],["tidal forces",1984.01,74.0,10],["composite structures",1975.29,74.1,10.5],["several experiments",1975.57,74.4,10.5],
["operational flights",1976.78,74.4,11],["large structures",1975.48,74.7,10.5],["new ways",1975.15,75.2,11],["technical problems",1976.62,75.2,19],
["other instruments",1976.47,75.5,12.5],["space studies",1977.48,75.4,10.5],["several satellites",1981.73,75.4,11],["new members",1984.67,76.1,12],
["thermal tiles",1980.16,76.5,10.5],["scientific instruments",1975.99,76.9,29.5],["several topics",1975.53,77.7,15],["public affairs",1976.04,78.0,13],
["operational phases",1975.40,78.1,10.5],["fossil fuels",1977.73,77.8,12],["commercial airlines",1977.54,78.4,11],["other types",1976.59,78.8,12],
["magnetic disturbances",1978.41,78.7,10],["biological materials",1978.59,79.1,10],["arrival times",1978.19,79.6,10],["different locations",1979.88,79.2,11],
["potential problems",1983.89,78.6,11],["new technologies",1983.30,79.3,15],["medical researchers",1983.01,79.7,10],["specific data",1976.49,80.4,10],
["commercial comsats",1975.38,80.7,11],["high angles",1978.18,81.3,10.5],["terrestrial systems",1983.01,81.8,10],["other companies",1983.75,82.4,10.5],
["auroral displays",1976.66,82.2,10.5],["academic scientists",1978.12,82.3,10.5],["accurate data",1982.40,82.9,10],["several days",1975.55,82.9,14],
["technical services",1981.48,83.2,11],["astronomical instruments",1975.02,83.1,10],["space programs",1974.70,82.3,12],["infrared detectors",1981.88,84.4,11],
["operational costs",1976.88,84.4,11],["significant contributions",1975.52,84.8,12],["successful tests",1976.34,84.6,10],["such programs",1977.34,84.8,10.5],
["international agreements",1978.46,85.4,13],["environmental satellites",1978.34,86.0,11],["electric generators",1979.92,86.5,10],["military communications",1978.36,86.8,20],
["important contributions",1977.0,86.8,10.5],["such services",1974.64,87.1,10],["other phenomena",1976.0,87.1,12],["new rules",1976.43,87.5,10],
["infrared cameras",1976.66,87.9,10],["high schools",1977.30,87.4,10.5],["small antennas",1978.01,87.4,10.5],["electronic devices",1976.19,88.1,11],
["economic problems",1976.15,88.5,12],["annual volumes",1978.24,88.4,11],["Other areas",1975.85,89.4,10.5],["several weeks",1976.79,89.1,14],
["other sources",1978.18,89.1,13],["environmental data",1979.12,89.4,14],["large quantities",1980.19,89.6,13],["such objects",1975.61,89.9,10],
["other data",1975.45,90.8,14],["other institutions",1976.51,90.6,10.5],["hot spots",1976.44,90.9,10.5],["significant improvements",1978.01,90.4,10],
["electrical charges",1975.17,91.9,10],["scientific goals",1977.21,92.4,10],["other items",1978.31,92.6,11],["gravitational waves",1979.58,91.6,10.5],
["other bodies",1979.39,92.1,10.5],["outer layers",1980.15,91.9,10.5],["solar winds",1980.40,91.4,15],["chemical releases",1980.71,91.9,11],
["medical tests",1981.47,91.6,12],["infrared observations",1980.39,92.6,10.5],["normal operations",1979.51,93.5,10.5],["private contractors",1978.55,93.8,12],
["Federal employees",1978.41,93.9,10.5],["private communications",1979.47,93.9,10],["organic materials",1983.60,93.5,10.5],["military satellites",1982.60,94.6,13],
["interstellar gas",1982.33,95.4,10.5],["distant stars",1982.62,94.4,10],["new pictures",1985.21,88.6,10],["low levels",1984.80,96.2,10],
["such facilities",1976.26,94.8,10],["own satellites",1976.91,95.0,11],["other things",1977.33,94.8,12],["celestial objects",1977.66,95.8,14],
["metal alloys",1978.12,96.2,10],["high costs",1979.22,96.3,11]
];

const termsRight = [
["new moons",1988.28,5.3,10],["private funds",1988.0,6.5,10],["solar arrays",1989.56,6.9,21.5],["several astronauts",1989.21,12.0,10],
["federal governments",1988.61,13.0,10],["commercial payloads",1989.39,14.7,10],["orbital debris",1990.17,14.9,10],["rural areas",1989.17,21.0,10],
["heavy elements",1990.43,20.9,10],["various regions",1987.41,24.9,10],["other galaxies",1987.68,26.6,10],
["Major media",1999.82,12.1,8],["cold temperatures",1985.86,18.3,9],["political recommendations",2003.01,24.3,8],["black holes",1999.84,25.3,8],
["federal employees",1985.78,28.7,9],["late 1990s",1986.88,30.5,9],["undergraduate students",1990.90,29.0,8.5],["new images",1994.63,28.8,10],
["budgetary limits",1995.18,30.9,8],["false alarms",1993.86,31.9,8],["robotic missions",1998.17,30.9,8],["ultraviolet wavelengths",1988.01,33.3,8.5],
["civilian users",1988.33,33.9,8],["new findings",1987.84,34.9,10],["nautical miles",1986.85,36.1,9.5],["Planetary scientists",1987.46,37.1,9],
["nearby galaxies",1985.84,39.3,9],["preliminary findings",1991.24,40.4,8.5],["distant galaxies",1986.22,43.7,10.5],["few miles",1985.78,44.9,9],
["environmental changes",1988.12,44.1,8.5],["several areas",1989.01,43.0,8.5],["educational activities",1988.66,46.9,8.5],["three-dimensional maps",1995.39,48.6,8],
["terrorist attacks",1999.01,47.9,8],["spiral galaxies",1985.78,53.2,9],["binary systems",1987.0,55.7,8.5],["robotic arms",1999.60,55.1,8],
["black holes",1992.47,57.2,25],["fiscal years",1989.26,61.1,9.5],["small satellites",1986.69,63.7,10.5],["solar eruptions",1993.27,63.4,8],
["several positions",1989.40,65.7,8],["international partners",1993.65,65.6,11],["scientific priorities",1993.61,67.5,8],["human missions",1997.58,66.9,8],
["solar tsunamis",2006.02,62.7,8],["infrared wavelengths",1985.83,67.9,9],["hot gas",1990.38,70.1,10.5],["disadvantaged businesses",1992.82,71.0,8],
["other stars",1996.29,72.1,8],["new teams",2003.89,71.1,8],["natural disasters",1986.19,71.4,10],["innovative ideas",1986.84,72.1,8.5],
["preliminary analysis",1986.06,73.5,8],["electrical cables",1989.28,74.0,8.5],["small payloads",1985.96,76.0,9],["solar system's",1991.71,76.9,11],
["cubic meters",1995.29,77.4,8],["joint operations",1988.88,80.1,8.5],["various instruments",1988.81,81.1,8],["natural causes",1991.37,82.9,8],
["cubic feet",1991.25,83.6,8],["electrical currents",1991.01,85.9,8],["fundamental questions",1988.84,86.6,8.5],["other moons",2000.34,88.2,8],
["urban areas",1986.96,89.1,10],["scientific operations",1992.83,93.8,8],["neutron stars",1985.84,93.8,9.5],["planetary systems",1989.16,96.1,11],
["new markets",1989.67,95.1,8],["private entities",1989.64,96.0,8]
];

const terms = [].concat(termsUpperLeft, termsCentre, termsLowerLeft, termsLowerCentre, termsRight);

const W = 4096, H = 1280, K = W / 4480;
const svg = d3.select("#chart");
svg.append("rect").attr("width", W).attr("height", H).attr("fill", "#000");

const x = d3.scaleLinear().domain([1961, 2009]).range([100 * K, 4380 * K]);
const y = d3.scaleLinear().domain([0, 100]).range([0, H]);
const fontSize = d3.scaleLinear().domain([0, 50]).range([0, 50 * K]);
const gray = d3.scaleLinear().domain([8, 10, 13, 20, 30, 46])
  .range(["#555555", "#7f7f7f", "#9c9c9c", "#bdbdbd", "#dedede", "#ffffff"]).clamp(true);
const hue = d3.scaleLinear().domain([1961, 2009]).range([0, 280]);
const yearColor = yr => d3.hsl(hue(yr), 1, 0.38).formatHex();

// year grid lines
svg.append("g").selectAll("line").data(years).join("line")
  .attr("x1", d => x(d)).attr("x2", d => x(d))
  .attr("y1", 45 * K).attr("y2", H)
  .attr("stroke", d => yearColor(d)).attr("stroke-opacity", 0.45).attr("stroke-width", 1);

// year labels (rotated)
svg.append("g").selectAll("text").data(years).join("text")
  .attr("transform", d => `translate(${x(d)},${7 * K}) rotate(90)`)
  .attr("text-anchor", "start").attr("dominant-baseline", "central")
  .attr("font-family", "'Liberation Sans', Arial, Helvetica, sans-serif")
  .attr("font-size", 16 * K)
  .attr("fill", d => yearColor(d))
  .text(d => d);

// terms, smaller first so bigger ones are drawn on top
const sorted = terms.slice().sort((a, b) => a[3] - b[3]);
svg.append("g").selectAll("text").data(sorted).join("text")
  .attr("x", d => x(d[1])).attr("y", d => y(d[2]))
  .attr("text-anchor", "middle").attr("dominant-baseline", "central")
  .attr("font-family", "'Liberation Sans', Arial, Helvetica, sans-serif")
  .attr("font-size", d => fontSize(d[3]))
  .attr("fill", d => gray(d[3]))
  .text(d => d[0]);
</script>
</body></html>
